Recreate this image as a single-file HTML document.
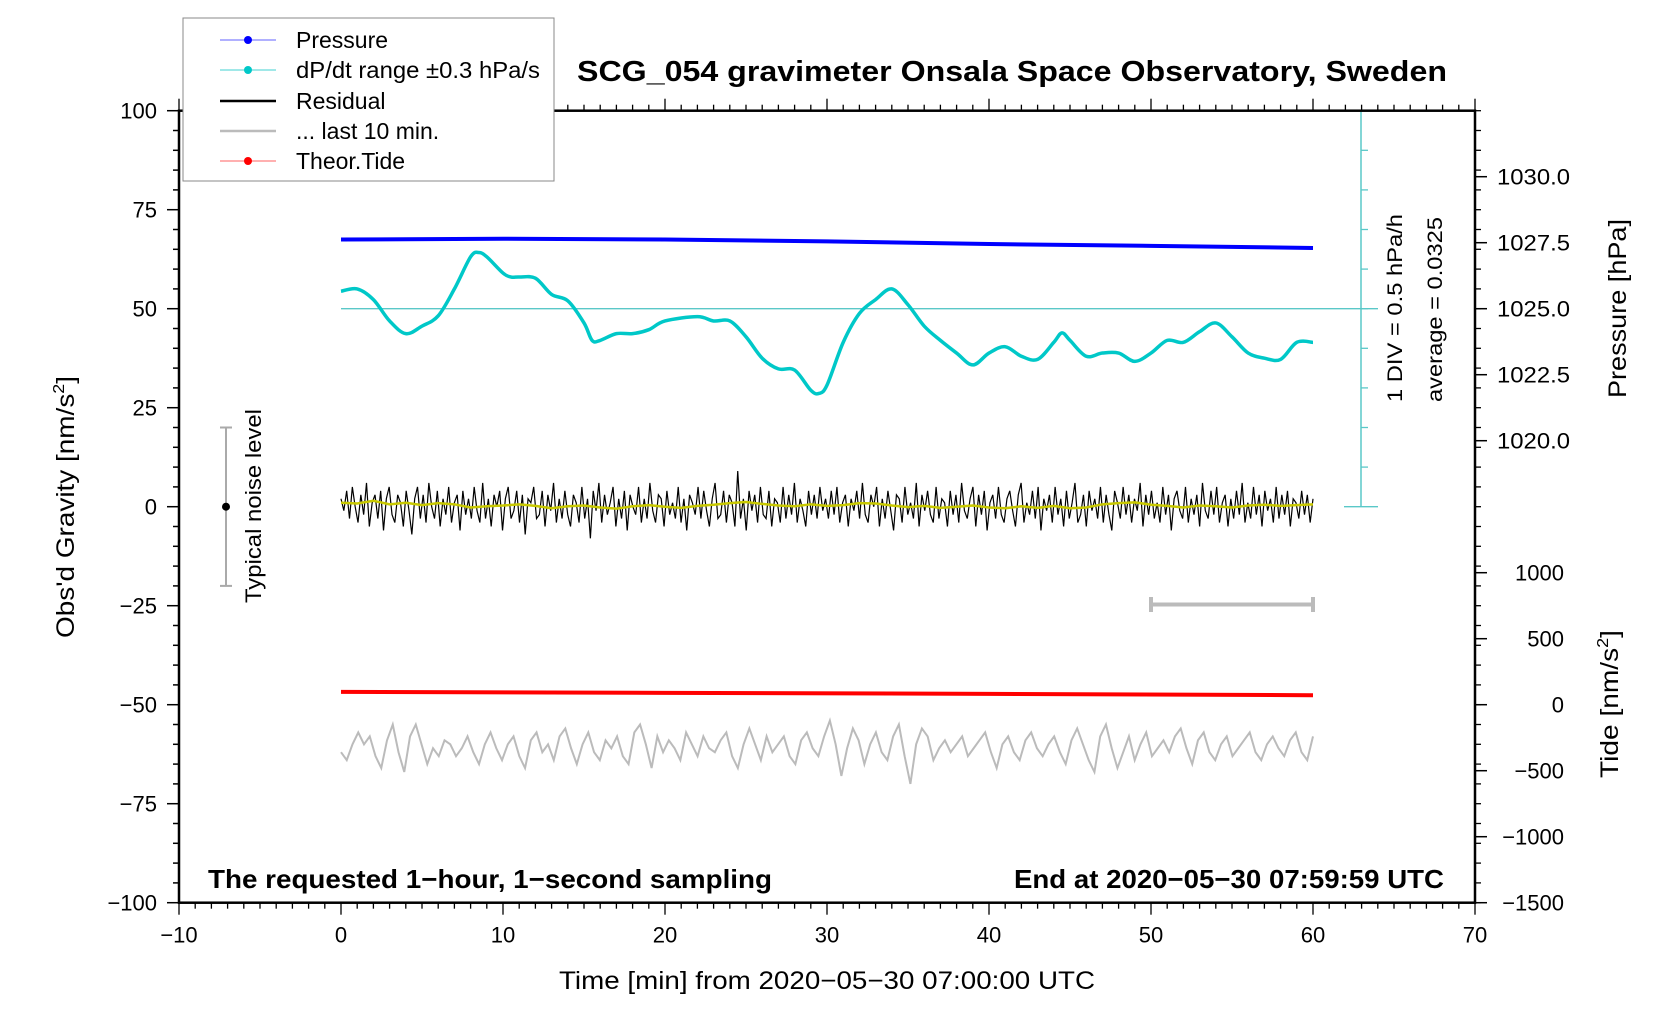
<!DOCTYPE html>
<html><head><meta charset="utf-8"><title>SCG_054 gravimeter</title>
<style>
html,body{margin:0;padding:0;background:#fff;}
svg{display:block;font-family:"Liberation Sans",sans-serif;}
</style></head>
<body>
<svg id="chart" width="1676" height="1020" viewBox="0 0 1676 1020" xmlns="http://www.w3.org/2000/svg">
<rect width="1676" height="1020" fill="#fff"/>
<g id="marks"></g>
<g id="axes"></g>
<text x="577" y="81" font-size="29" font-weight="bold" textLength="870" lengthAdjust="spacingAndGlyphs">SCG_054 gravimeter Onsala Space Observatory, Sweden</text>
<text x="559" y="989" font-size="25" textLength="536" lengthAdjust="spacingAndGlyphs">Time [min] from 2020−05−30 07:00:00 UTC</text>
<text transform="translate(74,638) rotate(-90)" font-size="25" textLength="262" lengthAdjust="spacingAndGlyphs">Obs'd Gravity [nm/s<tspan font-size="16" dy="-10">2</tspan><tspan dy="10">]</tspan></text>
<text transform="translate(1626,398) rotate(-90)" font-size="25" textLength="179" lengthAdjust="spacingAndGlyphs">Pressure [hPa]</text>
<text transform="translate(1618,778) rotate(-90)" font-size="25" textLength="148" lengthAdjust="spacingAndGlyphs">Tide [nm/s<tspan font-size="16" dy="-10">2</tspan><tspan dy="10">]</tspan></text>
<text x="208" y="888" font-size="26" font-weight="bold" textLength="564" lengthAdjust="spacingAndGlyphs">The requested 1−hour, 1−second sampling</text>
<text x="1014" y="888" font-size="26" font-weight="bold" textLength="430" lengthAdjust="spacingAndGlyphs">End at 2020−05−30 07:59:59 UTC</text>
<text transform="translate(1402,402) rotate(-90)" font-size="21" textLength="188" lengthAdjust="spacingAndGlyphs">1 DIV = 0.5 hPa/h</text>
<text transform="translate(1442,402) rotate(-90)" font-size="21" textLength="185" lengthAdjust="spacingAndGlyphs">average = 0.0325</text>
<text transform="translate(261,603) rotate(-90)" font-size="22" textLength="194" lengthAdjust="spacingAndGlyphs">Typical noise level</text>
<g>
<rect x="183" y="18" width="371" height="163" fill="#fff" stroke="#888" stroke-width="1"/>
<g><line x1="220" y1="40" x2="276" y2="40" stroke="#6060ff" stroke-width="1"/><circle cx="248" cy="40" r="4" fill="#0000ff"/><text x="296" y="48" font-size="23">Pressure</text></g>
<g><line x1="220" y1="70" x2="276" y2="70" stroke="#40d0d0" stroke-width="1"/><circle cx="248" cy="70" r="4" fill="#00c8c8"/><text x="296" y="78" font-size="23" textLength="244" lengthAdjust="spacingAndGlyphs">dP/dt range ±0.3 hPa/s</text></g>
<g><line x1="220" y1="101" x2="276" y2="101" stroke="#000" stroke-width="2.5"/><text x="296" y="109" font-size="23">Residual</text></g>
<g><line x1="220" y1="131" x2="276" y2="131" stroke="#bbb" stroke-width="2.5"/><text x="296" y="139" font-size="23">... last 10 min.</text></g>
<g><line x1="220" y1="161" x2="276" y2="161" stroke="#ff6060" stroke-width="1"/><circle cx="248" cy="161" r="4" fill="#ff0000"/><text x="296" y="169" font-size="23">Theor.Tide</text></g>
</g>
</svg>
<script>
const gravityTicks = [100, 75, 50, 25, 0, -25, -50, -75, -100];
const timeTicks = [-10, 0, 10, 20, 30, 40, 50, 60, 70];
const pressureTicks = [1030.0, 1027.5, 1025.0, 1022.5, 1020.0];
const tideTicks = [1000, 500, 0, -500, -1000, -1500];
const pressureTimes = [0, 10, 20, 30, 40, 50, 60];
const pressureValues = [1027.62, 1027.65, 1027.62, 1027.55, 1027.45, 1027.38, 1027.3];
const tideTimes = [0, 20, 40, 60];
const tideValues = [97, 90, 82, 72];
const dpTimes = [0,1,2,3,4,5,6,7,8,8.5,9,10,10.5,11,12,13,14,15,15.5,16,17,18,19,20,22,23,24,25,26,27,28,29,29.5,30,31,32,33,34,35,36,37,38,39,40,41,42,43,44,44.5,45,46,47,48,49,50,51,52,53,54,55,56,57,58,59,60];
const dpValues = [54.4,55.0,52.3,46.9,43.7,45.6,48.2,55.0,63.1,64.2,63.1,59.0,58.0,58.0,57.7,53.6,52.0,46.4,42.0,42.0,43.7,43.7,44.7,46.9,48.0,46.9,46.9,42.9,37.5,34.8,34.5,29.4,28.6,30.7,41.5,48.8,52.3,55.0,51.0,45.6,42.0,38.8,35.8,38.8,40.4,38.0,37.2,41.5,43.9,42.0,38.0,38.8,38.8,36.7,38.8,42.0,41.5,44.2,46.4,42.9,38.8,37.5,37.2,41.5,41.5];
const residualValues = [2,-1,4,-3,5,0,-4,3,-2,6,-5,1,3,-3,4,-6,2,5,-2,-4,3,1,-5,4,-1,-7,2,5,-3,3,-4,6,0,-3,4,-5,2,-2,5,-4,1,3,-6,4,-2,2,-3,5,-1,-4,6,-3,2,-5,3,0,4,-6,2,5,-3,-1,4,-4,3,-7,2,1,5,-3,-2,4,-5,3,-1,6,-4,2,-3,4,-2,-5,3,1,-4,5,-3,2,-8,4,-1,6,-4,3,-2,1,5,-5,2,-3,4,-6,3,0,-2,5,-4,2,-3,6,-1,-4,3,2,-5,4,-2,1,-3,5,-4,2,-6,3,1,-2,5,-3,4,-1,-5,2,6,-3,-2,4,-4,3,1,-5,9,-3,2,-6,4,-1,3,-4,5,-2,-3,4,-5,2,1,-4,5,-3,3,-2,6,-4,2,-1,-5,4,-2,3,-3,5,-1,2,
-3,4,-2,5,-4,1,3,-5,2,-1,4,-3,6,-2,-4,3,0,5,-5,2,-3,4,-1,-6,3,2,-4,5,-2,1,-3,6,-5,3,-1,4,-2,-4,5,-3,2,1,-5,4,-2,3,-4,6,-1,-3,2,5,-5,3,-2,4,-6,1,3,-3,5,-2,-4,2,4,-1,-5,3,6,-4,1,-2,4,-3,5,-6,2,-1,3,-4,5,-2,2,-5,4,-3,1,6,-4,-2,3,-5,4,-1,2,-3,5,-4,3,-2,-6,4,1,-3,5,-2,3,-4,2,-1,6,-5,3,-2,4,-3,1,-4,5,-2,3,-6,2,4,-1,-3,5,-4,2,-2,3,-5,6,-1,-3,4,-2,5,-4,1,3,-5,2,-3,4,-2,6,-4,1,-3,5,-2,3,-5,4,-1,2,-4,5,-3,3,-2,4,-5,2,1,-3,4,-2,3,-4,2];
const smoothValues = [1,0.8,1.5,0.6,1,0.4,0.9,0.6,-0.2,0.1,0.3,0.6,0.2,-0.4,0.1,0.3,-0.2,-0.5,0.1,0.4,0,-0.3,0.2,0.5,0.9,1.2,0.7,0.3,0.1,0.6,0.2,0.4,0.9,0.8,0.3,-0.1,0.2,-0.3,0,0.3,-0.2,-0.4,0.1,-0.3,0.2,-0.4,-0.2,0.6,0.9,1.1,0.5,0.2,-0.2,0.3,0.1,-0.2,0.3,0.5,0.2,0.4,0.6];
const lastValues = [-62,-64,-60,-57,-60,-58,-63,-66,-59,-55,-62,-67,-58,-55,-60,-65,-61,-63,-59,-60,-63,-61,-58,-62,-65,-60,-57,-61,-64,-60,-58,-63,-66,-59,-57,-62,-60,-64,-58,-56,-61,-65,-60,-57,-62,-64,-59,-61,-58,-63,-65,-57,-55,-60,-66,-58,-62,-59,-61,-64,-57,-60,-63,-58,-61,-62,-59,-57,-63,-66,-60,-56,-60,-64,-58,-62,-60,-58,-63,-65,-59,-57,-61,-63,-58,-54,-60,-68,-61,-56,-59,-65,-60,-57,-62,-64,-58,-55,-63,-70,-60,-56,-58,-64,-61,-59,-62,-60,-58,-63,-61,-59,-57,-62,-66,-60,-58,-62,-64,-59,-57,-61,-63,-60,-58,-62,-65,-59,-56,-60,-64,-67,-58,-55,-61,-66,-62,-58,-64,-60,-57,-63,-61,-59,-62,-58,-56,-61,-65,-59,-57,-62,-64,-60,-58,-63,-61,-59,-57,-62,-64,-60,-58,-61,-63,-59,-57,-62,-64,-58];

const X0 = 179, X1 = 1475, Y0 = 110.7, Y1 = 902.7;
const NS = 'http://www.w3.org/2000/svg';
function xs(t){ return X0 + (t + 10) / 80 * (X1 - X0); }
function ys(g){ return Y0 + (100 - g) / 200 * (Y1 - Y0); }
function yp(p){ return ys(50 + (p - 1025) * 6.6667); }
function yt(v){ return ys(-50 + v / 500 * 16.667); }
function mk(tag, attrs, parent){ const e = document.createElementNS(NS, tag); for (const k in attrs) e.setAttribute(k, attrs[k]); parent.appendChild(e); return e; }
const marks = document.getElementById('marks');
const axes = document.getElementById('axes');

function polyFrom(ts, vs, yfn){ return ts.map((t,i)=>xs(t).toFixed(2)+','+yfn(vs[i]).toFixed(2)).join(' '); }
function smoothPath(ts, vs, yfn){
  const p = ts.map((t,i)=>[xs(t), yfn(vs[i])]);
  let d = 'M'+p[0][0]+','+p[0][1];
  for (let i=0;i<p.length-1;i++){
    const a=p[Math.max(0,i-1)], b=p[i], c=p[i+1], e=p[Math.min(p.length-1,i+2)];
    d += ' C'+(b[0]+(c[0]-a[0])/6)+','+(b[1]+(c[1]-a[1])/6)+' '+(c[0]-(e[0]-b[0])/6)+','+(c[1]-(e[1]-b[1])/6)+' '+c[0]+','+c[1];
  }
  return d;
}
function evenTimes(n, t0, t1){ const r=[]; for(let i=0;i<n;i++) r.push(t0+(t1-t0)*i/(n-1)); return r; }

let el;
el = mk('line',{x1:xs(0),y1:ys(50),x2:1378,y2:ys(50),stroke:'#5ac8c8','stroke-width':1.3},marks);


el = mk('line',{x1:1361,y1:Y0,x2:1361,y2:ys(0),stroke:'#5ac8c8','stroke-width':1.5},marks);


for (let g=0; g<=100; g+=10){
  const w = (g===0||g===100) ? [1344,1378] : [1361,1368];
  el = mk('line',{x1:w[0],y1:ys(g),x2:w[1],y2:ys(g),stroke:'#5ac8c8','stroke-width':1.3},marks);
  
  
}

el = mk('line',{x1:226,y1:ys(20),x2:226,y2:ys(-20),stroke:'#aaa','stroke-width':2},marks);


for (const g of [20,-20]){ el = mk('line',{x1:220,y1:ys(g),x2:232,y2:ys(g),stroke:'#aaa','stroke-width':2},marks);
  
   }
el = mk('circle',{cx:226,cy:ys(0),r:4,fill:'#000'},marks);



el = mk('line',{x1:xs(50),y1:604.5,x2:xs(60),y2:604.5,stroke:'#bbb','stroke-width':4},marks);


for (const t of [50,60]){ el = mk('line',{x1:xs(t),y1:597,x2:xs(t),y2:612,stroke:'#bbb','stroke-width':4},marks);
  
   }

el = mk('polyline',{points:polyFrom(pressureTimes,pressureValues,yp),fill:'none',stroke:'#0000ff','stroke-width':4},marks);


el = mk('path',{d:smoothPath(dpTimes,dpValues,ys),fill:'none',stroke:'#00c8c8','stroke-width':3.5},marks);


el = mk('polyline',{points:polyFrom(evenTimes(residualValues.length,0,60),residualValues,ys),fill:'none',stroke:'#000','stroke-width':1.2},marks);


el = mk('polyline',{points:polyFrom(evenTimes(smoothValues.length,0,60),smoothValues,ys),fill:'none',stroke:'#c8c800','stroke-width':2.5},marks);


el = mk('polyline',{points:polyFrom(tideTimes,tideValues,yt),fill:'none',stroke:'#ff0000','stroke-width':4},marks);


el = mk('polyline',{points:polyFrom(evenTimes(lastValues.length,0,60),lastValues,ys),fill:'none',stroke:'#bbb','stroke-width':2},marks);



el = mk('rect',{x:X0,y:Y0,width:X1-X0,height:Y1-Y0,fill:'none',stroke:'#000','stroke-width':2.5},axes);



for (let g=-100; g<=100; g+=5){
  const major = g%25===0;
  el = mk('line',{x1:X0-(major?12:6),y1:ys(g),x2:X0,y2:ys(g),stroke:'#000','stroke-width':1.5},axes);
  
  
}
gravityTicks.forEach(g=>{ el = mk('text',{x:X0-22,y:ys(g)+8,'text-anchor':'end','font-size':22},axes); el.textContent = (g<0?'−':'')+Math.abs(g);
  
   });

for (let t=-10; t<=70; t+=1){
  const major = t%10===0;
  for (const yy of [Y1, Y0]){
    const dir = yy===Y1 ? 1 : -1;
    el = mk('line',{x1:xs(t),y1:yy,x2:xs(t),y2:yy+dir*(major?12:6),stroke:'#000','stroke-width':1.3},axes);
    
    
  }
}
timeTicks.forEach(t=>{ el = mk('text',{x:xs(t),y:Y1+40,'text-anchor':'middle','font-size':22},axes); el.textContent = (t<0?'−':'')+Math.abs(t);
  
   });

for (let g=-100; g<=100; g+=5){
  el = mk('line',{x1:X1,y1:ys(g),x2:X1+6,y2:ys(g),stroke:'#000','stroke-width':1.3},axes);
  
  
}
pressureTicks.forEach(p=>{
  el = mk('line',{x1:X1,y1:yp(p),x2:X1+12,y2:yp(p),stroke:'#000','stroke-width':1.5},axes);
  
  
  el = mk('text',{x:1497,y:yp(p)+8,'font-size':22,textLength:73,lengthAdjust:'spacingAndGlyphs'},axes); el.textContent = p.toFixed(1);
  
  
});
tideTicks.forEach(v=>{
  el = mk('line',{x1:X1,y1:yt(v),x2:X1+12,y2:yt(v),stroke:'#000','stroke-width':1.5},axes);
  
  
  el = mk('text',{x:1564,y:yt(v)+8,'text-anchor':'end','font-size':22},axes); el.textContent = (v<0?'−':'')+Math.abs(v);
  
  
});
</script>
</body></html>
